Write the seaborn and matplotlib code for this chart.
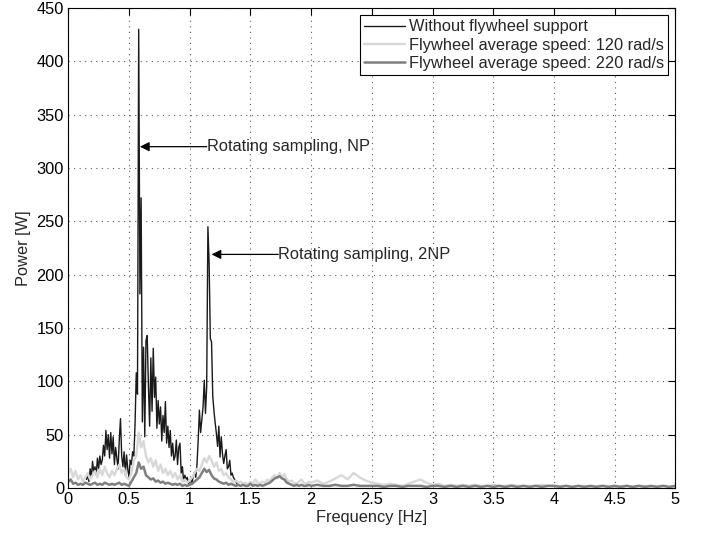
import numpy as np
import pandas as pd
import matplotlib
matplotlib.use('Agg')
import matplotlib.pyplot as plt
import seaborn as sns

# ---- data ----
# black trace: no flywheel support, 0.15 .. 1.40 Hz every 0.01 Hz
freq_black = np.round(np.arange(0.15, 1.405, 0.01), 2)
power_no_flywheel = [
    8, 12, 6, 18, 10, 25, 14, 20, 12, 28,
    18, 30, 22, 26, 40, 30, 54, 36, 50, 28,
    52, 32, 48, 22, 38, 28, 18, 45, 65, 30,
    20, 34, 12, 31, 18, 10, 26, 22, 34, 30,
    60, 108, 88, 430, 182, 272, 62, 132, 48, 138,
    143, 96, 58, 122, 72, 131, 85, 104, 56, 82,
    60, 76, 44, 68, 52, 81, 42, 58, 38, 54,
    30, 42, 26, 30, 45, 22, 38, 42, 14, 20,
    6, 12, 8, 10, 4, 6, 9, 5, 12, 15,
    10, 22, 45, 73, 52, 64, 76, 101, 70, 95,
    245, 211, 140, 137, 86, 72, 61, 51, 39, 58,
    29, 48, 32, 23, 30, 36, 18, 20, 26, 12,
    14, 10, 8, 6, 4, 3,
]

# grey traces: 0..2 Hz every 0.02 Hz, then 2.05..5 Hz every 0.05 Hz
freq_grey = np.round(np.concatenate([np.arange(0, 2.001, 0.02),
                                     np.arange(2.05, 5.001, 0.05)]), 2)
power_120 = [
    14, 18, 10, 16, 8, 12, 6, 10, 14, 8,
    12, 16, 10, 18, 12, 20, 14, 10, 16, 12,
    18, 22, 14, 18, 10, 8, 14, 26, 30, 52,
    38, 44, 30, 24, 28, 20, 26, 16, 22, 14,
    18, 12, 16, 10, 14, 8, 12, 6, 8, 5,
    7, 10, 14, 18, 16, 22, 28, 24, 30, 26,
    20, 24, 16, 18, 12, 14, 10, 8, 6, 7,
    5, 6, 4, 5, 3, 6, 4, 8, 5, 4,
    6, 5, 8, 6, 10, 12, 9, 14, 10, 13,
    8, 6, 7, 5, 4, 6, 8, 5, 4, 6,
    5,
    7, 4, 6, 9, 12, 8, 14, 10, 7, 5,
    4, 3, 4, 3, 2, 4, 6, 8, 5, 3,
    4, 2, 3, 2, 3, 2, 3, 2, 2, 3,
    2, 2, 3, 2, 2, 2, 2, 3, 2, 2,
    2, 2, 1, 2, 2, 1, 2, 2, 2, 1,
    2, 2, 1, 2, 2, 1, 2, 2, 1, 2,
]
power_220 = [
    6, 8, 4, 5, 3, 4, 3, 5, 4, 3,
    4, 5, 3, 4, 3, 5, 4, 3, 4, 3,
    4, 5, 3, 4, 3, 2, 6, 10, 14, 24,
    18, 20, 12, 10, 8, 9, 6, 7, 5, 6,
    4, 5, 4, 3, 4, 3, 4, 2, 3, 2,
    3, 4, 6, 8, 10, 14, 18, 15, 17, 12,
    9, 8, 6, 5, 4, 5, 3, 4, 3, 2,
    3, 2, 3, 2, 2, 4, 2, 3, 2, 3,
    2, 3, 4, 5, 7, 9, 10, 11, 9, 8,
    5, 4, 3, 2, 3, 2, 3, 2, 2, 3,
    2,
    3, 2, 2, 3, 2, 2, 3, 2, 2, 2,
    2, 1, 2, 2, 1, 2, 2, 2, 1, 2,
    2, 1, 2, 1, 2, 1, 2, 1, 2, 1,
    2, 1, 2, 1, 2, 1, 2, 1, 2, 2,
    1, 2, 1, 2, 1, 2, 1, 2, 1, 2,
    1, 2, 1, 2, 1, 2, 1, 2, 1, 2,
]

labels = ['Without flywheel support',
          'Flywheel average speed: 120 rad/s',
          'Flywheel average speed: 220 rad/s']

# annotation texts, where they start and the peak each arrow points to
notes = ['Rotating sampling, NP', 'Rotating sampling, 2NP']
note_start = [(1.14, 320), (1.73, 219)]
note_tip = [(0.59, 320), (1.18, 219)]

sns.set_style('white')
plt.rcParams['font.family'] = ['Liberation Sans', 'DejaVu Sans']
plt.rcParams['font.size'] = 11.8

fig = plt.figure(figsize=(7.01, 5.33), dpi=100)
ax = fig.add_axes([0.0974, 0.0844, 0.866, 0.9006])

sns.lineplot(x=freq_black, y=power_no_flywheel, ax=ax, color='#1a1a1a',
             lw=1.0, label=labels[0], estimator=None)
sns.lineplot(x=freq_grey, y=power_120, ax=ax, color='#d8d8d8',
             lw=1.7, label=labels[1], estimator=None)
sns.lineplot(x=freq_grey, y=power_220, ax=ax, color='#7f7f7f',
             lw=1.8, label=labels[2], estimator=None)

ax.set_xlim(0, 5)
ax.set_ylim(0, 450)
ax.set_xticks(np.arange(0, 5.01, 0.5))
ax.set_xticklabels(['0', '0.5', '1', '1.5', '2', '2.5', '3', '3.5', '4', '4.5', '5'])
ax.set_yticks(np.arange(0, 451, 50))
ax.set_xlabel('Frequency [Hz]', labelpad=2)
ax.set_ylabel('Power [W]', labelpad=4)
ax.grid(True, linestyle=(0, (1, 4)), color='0.35', linewidth=0.8)
ax.tick_params(direction='in', length=5, width=0.8, top=True, right=True,
               colors='black', pad=3)
for s in ax.spines.values():
    s.set_color('black')
    s.set_linewidth(0.8)

arrow = dict(arrowstyle='-|>', color='black', lw=0.9, mutation_scale=14,
             shrinkA=0, shrinkB=0)
for txt, start, tip in zip(notes, note_start, note_tip):
    ax.annotate('', xy=tip, xytext=start, arrowprops=arrow)
    ax.text(start[0], start[1], txt, va='center', ha='left')

leg = ax.legend(loc='upper right', frameon=True, fancybox=False, framealpha=1,
                edgecolor='black', borderpad=0.25, labelspacing=0.2,
                handlelength=2.45, handletextpad=0.25, borderaxespad=0.45)
leg.get_frame().set_linewidth(0.8)

fig.savefig('out.png', dpi=100)
